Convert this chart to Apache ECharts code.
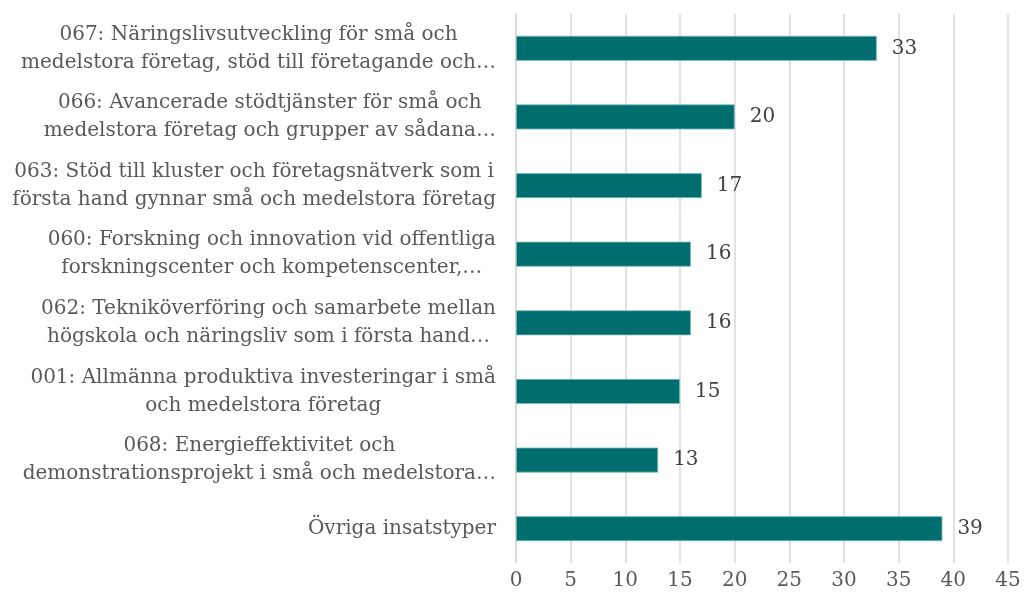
<!DOCTYPE html>
<html>
<head>
<meta charset="utf-8">
<script src="https://cdn.jsdelivr.net/npm/echarts@6/dist/echarts.min.js"></script>
<style>
html,body{margin:0;padding:0;background:#fff;}
#chart{width:1024px;height:603px;}
</style>
</head>
<body>
<div id="chart"></div>
<script>
// Categories, top to bottom (each line of the wrapped label)
var categories = [
  ["067: Näringslivsutveckling för små och", "medelstora företag, stöd till företagande och…"],
  ["066: Avancerade stödtjänster för små och", "medelstora företag och grupper av sådana…"],
  ["063: Stöd till kluster och företagsnätverk som i", "första hand gynnar små och medelstora företag"],
  ["060: Forskning och innovation vid offentliga", "forskningscenter och kompetenscenter,…"],
  ["062: Tekniköverföring och samarbete mellan", "högskola och näringsliv som i första hand…"],
  ["001: Allmänna produktiva investeringar i små", "och medelstora företag"],
  ["068: Energieffektivitet och", "demonstrationsprojekt i små och medelstora…"],
  ["Övriga insatstyper"]
];
var values = [33, 20, 17, 16, 16, 15, 13, 39];
var xTicks = [0, 5, 10, 15, 20, 25, 30, 35, 40, 45];

var FONT = "'DejaVu Serif', serif";
var catNames = categories.map(function (c) { return c.join("\n"); });

var chart = echarts.init(document.getElementById('chart'), null, {renderer: 'canvas'});
chart.setOption({
  animation: false,
  backgroundColor: '#ffffff',
  grid: {left: 516, right: 16, top: 14, bottom: 40, containLabel: false},
  xAxis: {
    type: 'value',
    min: xTicks[0],
    max: xTicks[xTicks.length - 1],
    interval: 5,
    axisLine: {show: false},
    axisTick: {show: false},
    splitLine: {show: true, lineStyle: {color: '#d9d9d9', width: 1.5}},
    axisLabel: {
      margin: 8,
      color: '#595959',
      fontFamily: FONT,
      fontSize: 20
    }
  },
  yAxis: {
    type: 'category',
    inverse: true,
    data: catNames,
    axisLine: {show: true, lineStyle: {color: '#d9d9d9', width: 1.5}},
    axisTick: {show: false},
    axisLabel: {
      margin: 20,
      align: 'right',
      interval: 0,
      formatter: function (val) {
        return val.split("\n").map(function (l) { return '{c|' + l + '}'; }).join("\n");
      },
      rich: {
        c: {
          align: 'center',
          color: '#595959',
          fontFamily: FONT,
          fontSize: 20,
          lineHeight: 28
        }
      }
    }
  },
  series: [{
    type: 'bar',
    data: values,
    barWidth: 25,
    itemStyle: {color: '#006d6f', borderColor: '#7fbcbc', borderWidth: 0.8},
    label: {
      show: true,
      position: 'right',
      distance: 15,
      color: '#404040',
      fontFamily: FONT,
      fontSize: 20
    }
  }]
});
</script>
</body>
</html>
